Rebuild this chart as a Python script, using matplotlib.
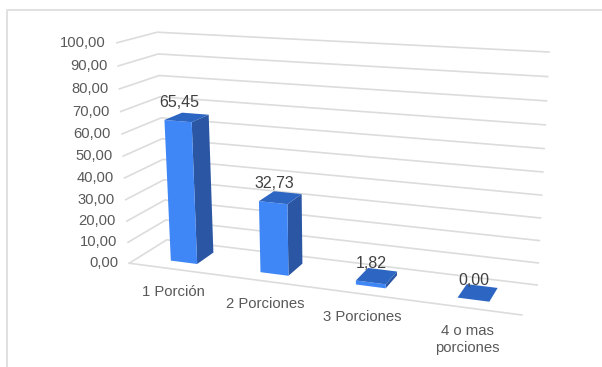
import numpy as np
import matplotlib
matplotlib.use('Agg')
import matplotlib.pyplot as plt

categories = ['1 Porción', '2 Porciones', '3 Porciones', '4 o mas\nporciones']
values = [65.45, 32.73, 1.82, 0.00]
value_ticks = [0, 10, 20, 30, 40, 50, 60, 70, 80, 90, 100]

plt.rcParams['font.family'] = ['Liberation Sans', 'DejaVu Sans']

FRONT = '#3F86F6'
SIDE = '#2A56A3'
TOP = '#2D65C2'
GRID = '#DCDCDC'
TEXT = '#595959'

# box corners (category pos, depth, value) and where they land on the page
box3d = [(0, 0, 0), (4, 0, 0), (0, 1, 0), (4, 1, 0), (0, 0, 100), (0, 1, 100), (4, 1, 100)]
box2d = [(129, 263), (522, 315), (167, 240), (537, 285), (117, 43), (157, 32), (549, 52)]


def fit_camera():
    rows, rhs = [], []
    for (a, b, c), (px, py) in zip(box3d, box2d):
        rows.append([a, b, c, 1, 0, 0, 0, 0, -px * a, -px * b, -px * c])
        rows.append([0, 0, 0, 0, a, b, c, 1, -py * a, -py * b, -py * c])
        rhs += [px, py]
    m = np.linalg.lstsq(np.array(rows, float), np.array(rhs, float), rcond=None)[0]
    return np.append(m, 1).reshape(3, 4)


cam = fit_camera()


def proj(u, d, v):
    p = cam @ np.array([u, d, v, 1.0])
    return p[0] / p[2], p[1] / p[2]


fig = plt.figure(figsize=(6.02, 3.67), dpi=100)
ax = fig.add_axes([0, 0, 1, 1])
ax.set_xlim(0, 602)
ax.set_ylim(367, 0)
ax.axis('off')

# outer chart border
ax.plot([6.5, 6.5, 602], [367, 9.7, 9.7], color='#DEDEDE', lw=1.3, zorder=1)

# walls and floor
for v in value_ticks:
    pts = [proj(0, 0, v), proj(0, 1, v), proj(4, 1, v)]
    ax.plot(*zip(*pts), color=GRID, lw=1.2, zorder=2)
    x0, y0 = pts[0]
    ax.text(x0 - 11, y0, f'{v:.2f}'.replace('.', ','), ha='right', va='center',
            fontsize=10.6, color=TEXT, zorder=6)
ax.plot(*zip(proj(0, 0, 0), proj(4, 0, 0)), color=GRID, lw=1.2, zorder=2)

# bars, back to front faces
half = 0.15
d0, d1 = 0.27, 0.74
for i, (name, val) in enumerate(zip(categories, values)):
    mid = i + 0.51
    l, r = mid - half, mid + half
    ax.fill(*zip(proj(r, d0, 0), proj(r, d1, 0), proj(r, d1, val), proj(r, d0, val)),
            color=SIDE, lw=0, zorder=3)
    ax.fill(*zip(proj(l, d0, 0), proj(r, d0, 0), proj(r, d0, val), proj(l, d0, val)),
            color=FRONT, lw=0, zorder=4)
    ax.fill(*zip(proj(l, d0, val), proj(r, d0, val), proj(r, d1, val), proj(l, d1, val)),
            color=TOP, lw=0, zorder=5)

    tx, ty = proj(i + 0.5, d0, val)
    ax.text(tx + 2, ty - 19, f'{val:.2f}'.replace('.', ','), ha='center', va='center',
            fontsize=11.5, color='#404040', zorder=6)
    cx, cy = proj(i + 0.5, 0, 0)
    ax.text(cx, cy + 16, name, ha='center', va='top', fontsize=10.7, color=TEXT,
            linespacing=1.25, zorder=6)

fig.savefig('out.png', dpi=100)
